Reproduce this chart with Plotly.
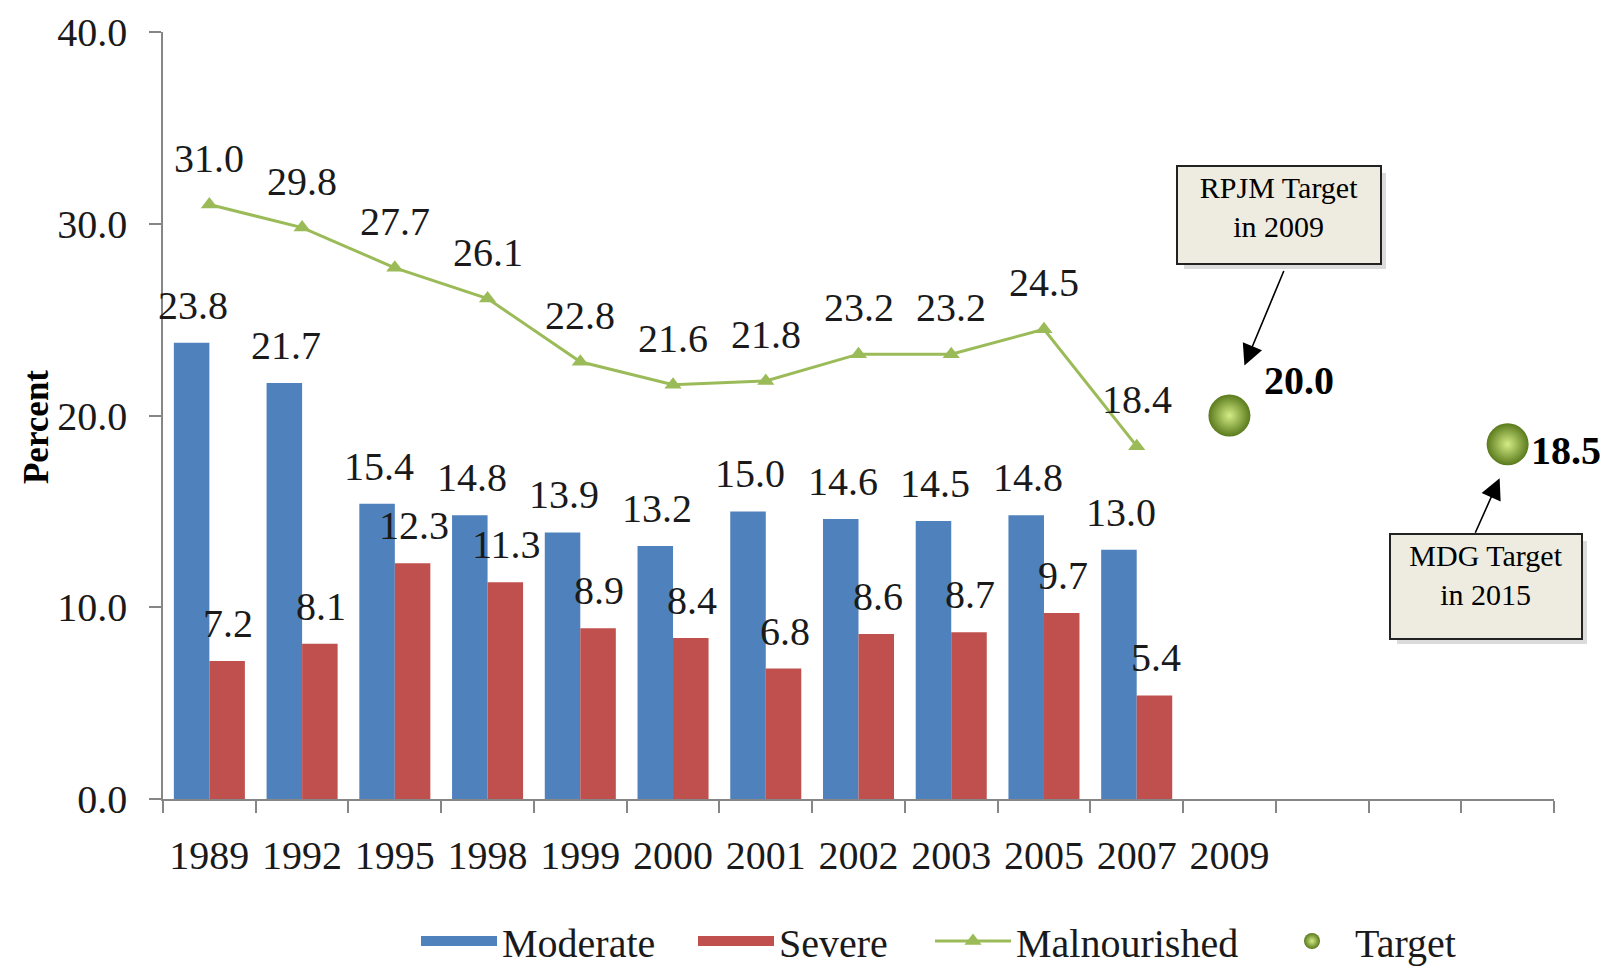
import plotly.graph_objects as go

# ---- data ----
categories = ["1989", "1992", "1995", "1998", "1999", "2000", "2001", "2002",
              "2003", "2005", "2007", "2009", "2011", "2013", "2015"]
tick_labels = ["1989", "1992", "1995", "1998", "1999", "2000", "2001", "2002",
               "2003", "2005", "2007", "2009", "", "", ""]
bar_years = ["1989", "1992", "1995", "1998", "1999", "2000", "2001", "2002",
             "2003", "2005", "2007"]
moderate = [23.8, 21.7, 15.4, 14.8, 13.9, 13.2, 15.0, 14.6, 14.5, 14.8, 13.0]
severe = [7.2, 8.1, 12.3, 11.3, 8.9, 8.4, 6.8, 8.6, 8.7, 9.7, 5.4]
malnourished = [31.0, 29.8, 27.7, 26.1, 22.8, 21.6, 21.8, 23.2, 23.2, 24.5, 18.4]
target_years = ["2009", "2015"]
target_values = [20.0, 18.5]
target_notes = ["RPJM Target<br>in 2009", "MDG Target<br>in 2015"]

BLUE = "#4F81BD"
RED = "#C0504D"
GREEN = "#9BBB59"
SERIF = "Liberation Serif, Times New Roman, serif"
TXT = "#1a1a1a"
AX = "#868686"
FS = 40

# figure is placed inside the page body (8px default margin)
W, H = 1598, 965


def cat_index(c):
    # annotations on a category axis are positioned by category index
    return categories.index(c)


fig = go.Figure()
fig.add_trace(go.Bar(x=bar_years, y=moderate, name="Moderate",
                     marker=dict(color=BLUE, line=dict(width=0)), showlegend=False))
fig.add_trace(go.Bar(x=bar_years, y=severe, name="Severe",
                     marker=dict(color=RED, line=dict(width=0)), showlegend=False))
fig.add_trace(go.Scatter(x=bar_years, y=malnourished, name="Malnourished",
                         mode="lines+markers",
                         line=dict(color=GREEN, width=3),
                         marker=dict(symbol="triangle-up", size=15, color=GREEN),
                         showlegend=False))
fig.add_trace(go.Scatter(x=target_years, y=target_values, name="Target",
                         mode="markers",
                         marker=dict(size=42, color="#5A7A1C",
                                     gradient=dict(type="radial", color="#D4EC86"),
                                     line=dict(width=0)),
                         showlegend=False, cliponaxis=False))

# legend proxies (wide swatches like the original), one legend each
fig.add_trace(go.Scatter(x=[None], y=[None], mode="lines", name="Moderate",
                         line=dict(color=BLUE, width=20), legend="legend"))
fig.add_trace(go.Scatter(x=[None], y=[None], mode="lines", name="Severe",
                         line=dict(color=RED, width=20), legend="legend2"))
fig.add_trace(go.Scatter(x=[None], y=[None], mode="lines+markers", name="Malnourished",
                         line=dict(color=GREEN, width=3),
                         marker=dict(symbol="triangle-up", size=15, color=GREEN),
                         legend="legend3"))
fig.add_trace(go.Scatter(x=[None], y=[None], mode="markers", name="Target",
                         marker=dict(size=26, color="#5A7A1C",
                                     gradient=dict(type="radial", color="#D4EC86")),
                         legend="legend4"))

ann = []
lab_font = dict(family=SERIF, size=FS, color=TXT)
for xv, v in zip(bar_years, moderate):
    ann.append(dict(x=cat_index(xv), y=v, text=f"{v:.1f}", showarrow=False, xshift=-16,
                    yshift=13, yanchor="bottom", font=lab_font))
for xv, v in zip(bar_years, severe):
    ann.append(dict(x=cat_index(xv), y=v, text=f"{v:.1f}", showarrow=False, xshift=19,
                    yshift=13, yanchor="bottom", font=lab_font))
for xv, v in zip(bar_years, malnourished):
    ann.append(dict(x=cat_index(xv), y=v, text=f"{v:.1f}", showarrow=False,
                    yshift=22, yanchor="bottom", font=lab_font))

# target value labels
bold_font = dict(family=SERIF, size=40, color="#000000")
ann.append(dict(x=cat_index(target_years[0]), y=target_values[0],
                text=f"<b>{target_values[0]:.1f}</b>",
                showarrow=False, xshift=70, yshift=35, font=bold_font))
ann.append(dict(x=cat_index(target_years[1]), y=target_values[1],
                text=f"<b>{target_values[1]:.1f}</b>",
                showarrow=False, xshift=21, yshift=-6, xanchor="left", font=bold_font))

# callout boxes (shadow, box, arrow)
box_font = dict(family=SERIF, size=30, color="#000000")
callouts = [
    # (target index, box shift, box size, arrow tip shift, arrow tail offset)
    (0, (50, 201), (194, 88), (15, 50), (40, -96)),
    (1, (-22, -142), (182, 95), (-8, -34), (-25, 56)),
]
for i, (bx, by), (bw, bh), (tx, ty), (ax_, ay_) in callouts:
    xi, yv = cat_index(target_years[i]), target_values[i]
    ann.append(dict(x=xi, y=yv, text="", showarrow=False,
                    xshift=bx + 6, yshift=by - 6, width=bw + 6, height=bh + 6,
                    bgcolor="rgba(0,0,0,0.14)", borderwidth=0))
    ann.append(dict(x=xi, y=yv, text=target_notes[i], showarrow=False,
                    xshift=bx, yshift=by, width=bw, height=bh, valign="top",
                    bgcolor="#EEECE1", bordercolor="#222222", borderwidth=2,
                    borderpad=4, font=box_font))
    ann.append(dict(x=xi, y=yv, text="", showarrow=True,
                    xshift=tx, yshift=ty, ax=ax_, ay=ay_,
                    arrowhead=2, arrowsize=2.6, arrowwidth=1.6, arrowcolor="#000000"))

# y-axis title
ann.append(dict(xref="paper", yref="paper", x=-0.0913, y=0.485, text="<b>Percent</b>",
                textangle=-90, showarrow=False, xanchor="center", yanchor="middle",
                font=dict(family=SERIF, size=35, color="#000000")))

leg_common = dict(orientation="h", xref="container", yref="container",
                  xanchor="left", yanchor="middle", y=1 - 933 / H,
                  font=dict(family=SERIF, size=FS, color=TXT),
                  itemwidth=76, bgcolor="rgba(0,0,0,0)")

fig.update_layout(
    template="none",
    width=W, height=H,
    margin=dict(l=155, r=52, t=24, b=174),
    paper_bgcolor="white", plot_bgcolor="white",
    barmode="group", bargap=0.234, bargroupgap=0,
    font=dict(family=SERIF, size=FS, color=TXT),
    annotations=ann,
    legend=dict(leg_common, x=408 / W),
    legend2=dict(leg_common, x=685 / W),
    legend3=dict(leg_common, x=922 / W),
    legend4=dict(leg_common, x=1261 / W),
    xaxis=dict(type="category", categoryorder="array", categoryarray=categories,
               range=[-0.5, len(categories) - 0.5], automargin=False,
               tickmode="array", tickvals=categories, ticktext=tick_labels,
               tickson="boundaries", ticks="outside", ticklen=12, tickcolor=AX,
               tickwidth=1.5, showline=True, linecolor=AX, linewidth=1.5,
               showgrid=False, zeroline=False, ticklabelstandoff=20,
               tickfont=dict(family=SERIF, size=FS, color=TXT)),
    yaxis=dict(range=[0, 40], tickvals=[0, 10, 20, 30, 40], tickformat=".1f",
               automargin=False,
               ticks="outside", ticklen=12, tickcolor=AX, tickwidth=1.5,
               showline=True, linecolor=AX, linewidth=1.5,
               showgrid=False, zeroline=False, ticklabelstandoff=14,
               tickfont=dict(family=SERIF, size=FS, color=TXT)),
)

fig.write_html("out.html")
